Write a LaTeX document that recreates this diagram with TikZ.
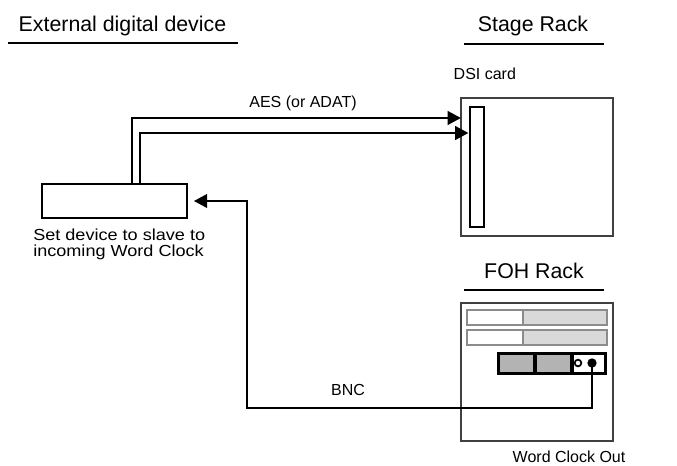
\documentclass[tikz,border=0pt]{standalone}
\usepackage{fontspec}
\setmainfont{Liberation Sans}
\newfontfamily\notefont[FakeStretch=1.13]{Liberation Sans}
\usetikzlibrary{positioning,arrows.meta}
\definecolor{rackline}{HTML}{404040}
\definecolor{slotline}{HTML}{8C8C8C}
\definecolor{slotfill}{HTML}{D9D9D9}
\definecolor{cellfill}{HTML}{B3B3B3}

\begin{document}
\begin{tikzpicture}[x=0.75pt,y=-0.75pt,
    every node/.style={font=\fontsize{12}{13}\selectfont},
    title/.style={font=\fontsize{16}{18}\selectfont,anchor=base},
    rule/.style={line width=2.2pt},
    wire/.style={line width=2.2pt},
    tip/.style={-{Triangle[length=10pt,width=10pt]}},
    rack/.style={draw=rackline,line width=2pt,inner sep=0,outer sep=0,minimum width=114pt,minimum height=103.5pt},
    slot/.style={draw=slotline,line width=2pt}]
    \useasboundingbox (0,0) rectangle (677,466);
    % headings
    \node[title,anchor=base west] (exttitle) at (14,32) {External digital device};
    \draw[rule] (8,43) -- (238,43);
    \node[title] (stagetitle) at (533,32) {Stage Rack};
    \draw[rule] (464,44) -- (604,44);
    \node[title] (fohtitle) at (534,278) {FOH Rack};
    \draw[rule] (464,290) -- (604,290);
    % external device
    \node[draw,line width=2.2pt,inner sep=0,minimum width=108.75pt,minimum height=25.5pt] (device) at (114.5,201) {};
    \node[anchor=north west,align=left,inner sep=0,font=\notefont\fontsize{12}{12}\selectfont] (devnote) at (33,229) {Set device to slave to\\incoming Word Clock};
    % stage rack with DSI card
    \node[rack] (stage) at (537,167) {};
    \node[draw,line width=2.2pt,inner sep=0,minimum width=10.5pt,minimum height=90pt] (dsi) at (477,167) {};
    \node[anchor=base west] (dsilabel) at (449,80) {DSI card};
    % FOH rack
    \node[rack] (foh) at (537,372) {};
    \draw[slot,fill=white] (467,310) rectangle (523,325);
    \draw[slot,fill=slotfill] (523,310) rectangle (607,325);
    \draw[slot,fill=white] (467,330) rectangle (523,345);
    \draw[slot,fill=slotfill] (523,330) rectangle (607,345);
    \fill[black] (497,352) rectangle (607,375);
    \fill[cellfill] (500,355) rectangle (533,372);
    \fill[cellfill] (537,355) rectangle (570,372);
    \fill[white] (574,355) rectangle (604,372);
    \node[circle,draw,line width=1.3pt,inner sep=0,minimum size=5pt] (ring) at (578,363) {};
    \node[circle,fill=black,inner sep=0,minimum size=7pt] (jack) at (592,363) {};
    \node[anchor=base west] (wclabel) at (508,462) {Word Clock Out};
    % AES / ADAT lines
    \coordinate (aesturn) at (132,118);
    \coordinate (adatturn) at (140,133);
    \draw[wire,tip] (device.north -| aesturn) |- (stage.west |- aesturn);
    \draw[wire,tip] (device.north -| adatturn) |- (dsi.west |- adatturn);
    \node[anchor=base] (aeslabel) at (303,108) {AES (or ADAT)};
    % word clock return
    \coordinate (bncturn) at (247,408);
    \draw[wire,tip,shorten >=4pt] (jack.center) |- (bncturn) |- (device.east);
    \node[anchor=base] (bnclabel) at (348,395) {BNC};
\end{tikzpicture}
\end{document}
